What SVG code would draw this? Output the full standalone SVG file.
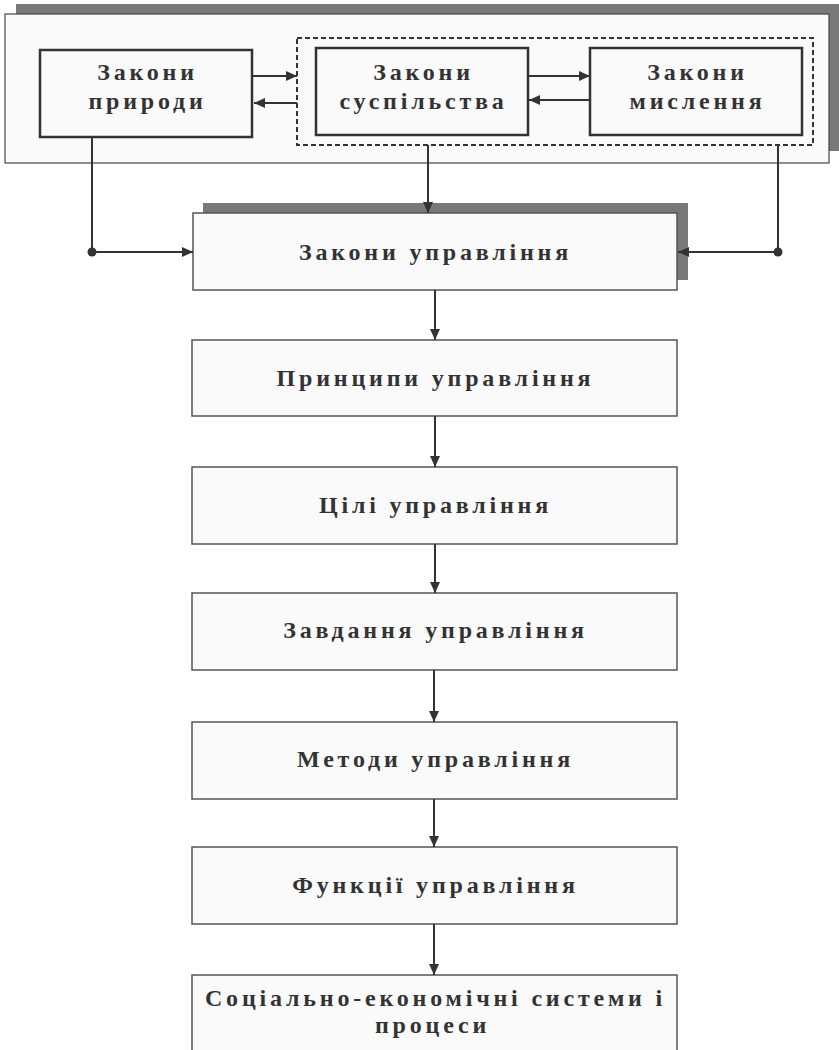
<svg xmlns="http://www.w3.org/2000/svg" width="839" height="1050" viewBox="0 0 839 1050">
  <style>
    .shadow { fill: #787878; }
    .panel { fill: #fafafa; stroke: #444; stroke-width: 1.2; }
    .law { fill: #fafafa; stroke: #333; stroke-width: 2.5; }
    .box { fill: #fafafa; stroke: #555; stroke-width: 1.5; }
    .group { fill: none; stroke: #333; stroke-width: 2; stroke-dasharray: 5 3; }
    .lbl { font-family: "Liberation Serif", "Times New Roman", serif; font-weight: bold; font-size: 24px; letter-spacing: 3.8px; fill: #333; text-anchor: middle; }
    .wire { fill: none; stroke: #333; stroke-width: 2; }
    .dot { fill: #333; }
  </style>
  <defs>
    <marker id="arrow" markerUnits="userSpaceOnUse" markerWidth="12" markerHeight="11" refX="11" refY="5" orient="auto">
      <path d="M0,0 L11,5 L0,10 z" fill="#333"/>
    </marker>
  </defs>

  <rect width="839" height="1050" fill="#ffffff"/>

  <!-- upper panel with the three kinds of laws -->
  <g id="panel">
    <rect class="shadow" x="16" y="4" width="823" height="147"/>
    <rect class="panel" x="5" y="14" width="824" height="149"/>
    <rect class="group" x="297" y="38" width="516" height="107"/>
  </g>

  <g id="nature">
    <rect class="law" x="40" y="50" width="212" height="87"/>
    <text class="lbl" x="147.5" y="80">Закони</text>
    <text class="lbl" x="147.5" y="109">природи</text>
  </g>

  <g id="society">
    <rect class="law" x="316" y="48" width="212" height="87"/>
    <text class="lbl" x="423.5" y="80">Закони</text>
    <text class="lbl" x="423.5" y="109">суспільства</text>
  </g>

  <g id="thinking">
    <rect class="law" x="590" y="48" width="212" height="87"/>
    <text class="lbl" x="697.5" y="80">Закони</text>
    <text class="lbl" x="697.5" y="109">мислення</text>
  </g>

  <!-- management chain -->
  <g id="laws">
    <rect class="shadow" x="203" y="203" width="485" height="77"/>
    <rect class="box" x="193" y="213" width="484" height="77"/>
    <text class="lbl" x="435.5" y="260">Закони управління</text>
  </g>

  <g id="principles">
    <rect class="box" x="192" y="340" width="485" height="76"/>
    <text class="lbl" x="435.5" y="386">Принципи управління</text>
  </g>

  <g id="goals">
    <rect class="box" x="192" y="467" width="485" height="77"/>
    <text class="lbl" x="435.5" y="513">Цілі управління</text>
  </g>

  <g id="tasks">
    <rect class="box" x="192" y="593" width="485" height="77"/>
    <text class="lbl" x="435.5" y="638">Завдання управління</text>
  </g>

  <g id="methods">
    <rect class="box" x="192" y="722" width="485" height="77"/>
    <text class="lbl" x="435.5" y="767">Методи управління</text>
  </g>

  <g id="functions">
    <rect class="box" x="192" y="847" width="485" height="77"/>
    <text class="lbl" x="435.5" y="893">Функції управління</text>
  </g>

  <g id="systems">
    <rect class="box" x="192" y="975" width="485" height="90"/>
    <text class="lbl" x="435.5" y="1006">Соціально-економічні системи і</text>
    <text class="lbl" x="432.5" y="1033">процеси</text>
  </g>

  <g id="connectors">
    <!-- exchanges between the law groups -->
    <line class="wire" x1="253" y1="76" x2="297" y2="76" marker-end="url(#arrow)"/>
    <line class="wire" x1="297" y1="103" x2="254" y2="103" marker-end="url(#arrow)"/>
    <line class="wire" x1="529" y1="76" x2="590" y2="76" marker-end="url(#arrow)"/>
    <line class="wire" x1="590" y1="100" x2="529" y2="100" marker-end="url(#arrow)"/>

    <!-- feeds into the laws of management -->
    <path class="wire" d="M92,137 V252 H193" marker-end="url(#arrow)"/>
    <circle class="dot" cx="92" cy="252" r="4.5"/>
    <path class="wire" d="M778,145 V252 H678" marker-end="url(#arrow)"/>
    <circle class="dot" cx="778" cy="252" r="4.5"/>
    <line class="wire" x1="428" y1="145" x2="428" y2="213" marker-end="url(#arrow)"/>

    <!-- vertical chain -->
    <line class="wire" x1="435" y1="290" x2="435" y2="340" marker-end="url(#arrow)"/>
    <line class="wire" x1="435" y1="416" x2="435" y2="467" marker-end="url(#arrow)"/>
    <line class="wire" x1="435" y1="544" x2="435" y2="593" marker-end="url(#arrow)"/>
    <line class="wire" x1="434" y1="670" x2="434" y2="722" marker-end="url(#arrow)"/>
    <line class="wire" x1="434" y1="799" x2="434" y2="847" marker-end="url(#arrow)"/>
    <line class="wire" x1="434" y1="924" x2="434" y2="975" marker-end="url(#arrow)"/>
  </g>
</svg>
